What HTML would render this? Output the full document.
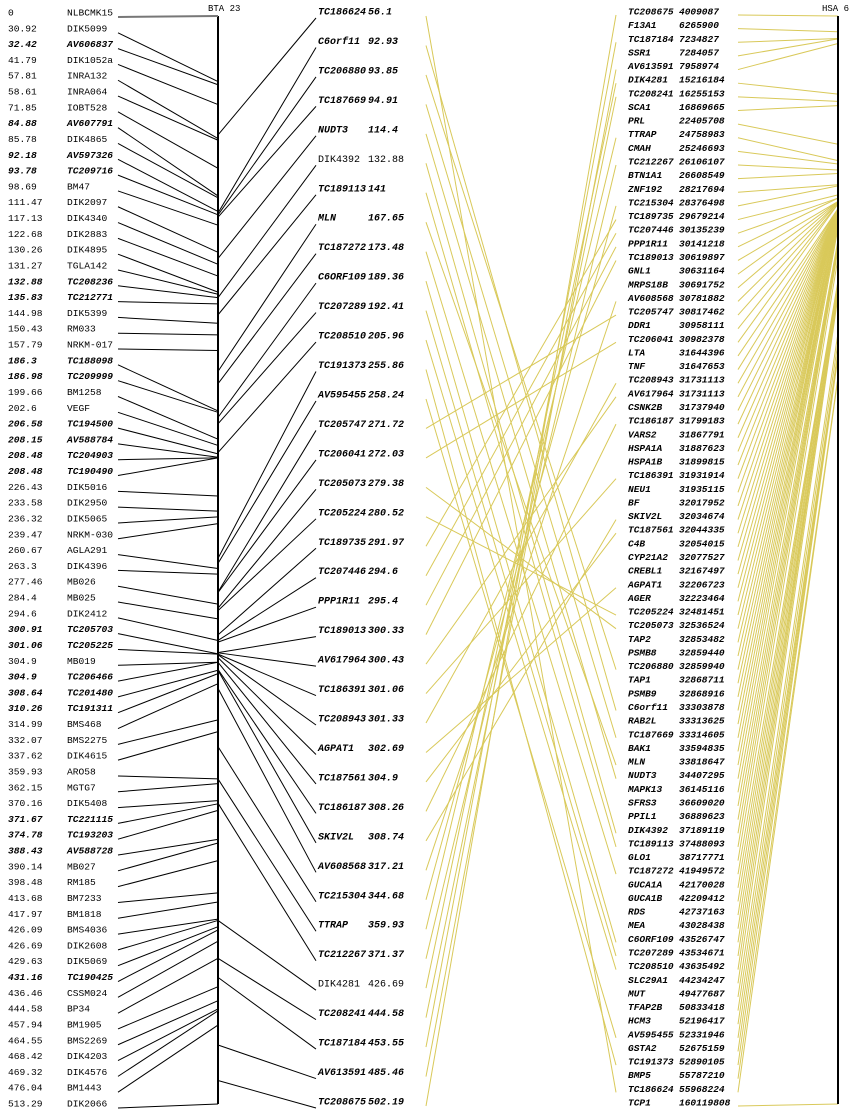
<!DOCTYPE html>
<html><head><meta charset="utf-8"><style>
html,body{margin:0;padding:0;background:#fff;}
svg{display:block;font-family:"Liberation Mono","DejaVu Sans Mono",monospace;}
.b{font-weight:bold;font-style:italic;}
</style></head><body>
<svg id="chart" width="854" height="1118" viewBox="0 0 854 1118"></svg>
<script>
const bovineNames=["NLBCMK15","DIK5099","AV606837","DIK1052a","INRA132","INRA064","IOBT528","AV607791","DIK4865","AV597326","TC209716","BM47","DIK2097","DIK4340","DIK2883","DIK4895","TGLA142","TC208236","TC212771","DIK5399","RM033","NRKM-017","TC188098","TC209999","BM1258","VEGF","TC194500","AV588784","TC204903","TC190490","DIK5016","DIK2950","DIK5065","NRKM-030","AGLA291","DIK4396","MB026","MB025","DIK2412","TC205703","TC205225","MB019","TC206466","TC201480","TC191311","BMS468","BMS2275","DIK4615","ARO58","MGTG7","DIK5408","TC221115","TC193203","AV588728","MB027","RM185","BM7233","BM1818","BMS4036","DIK2608","DIK5069","TC190425","CSSM024","BP34","BM1905","BMS2269","DIK4203","DIK4576","BM1443","DIK2066"];
const bovineCM=["0","30.92","32.42","41.79","57.81","58.61","71.85","84.88","85.78","92.18","93.78","98.69","111.47","117.13","122.68","130.26","131.27","132.88","135.83","144.98","150.43","157.79","186.3","186.98","199.66","202.6","206.58","208.15","208.48","208.48","226.43","233.58","236.32","239.47","260.67","263.3","277.46","284.4","294.6","300.91","301.06","304.9","304.9","308.64","310.26","314.99","332.07","337.62","359.93","362.15","370.16","371.67","374.78","388.43","390.14","398.48","413.68","417.97","426.09","426.69","429.63","431.16","436.46","444.58","457.94","464.55","468.42","469.32","476.04","513.29"];
const estNames=["TC186624","C6orf11","TC206880","TC187669","NUDT3","DIK4392","TC189113","MLN","TC187272","C6ORF109","TC207289","TC208510","TC191373","AV595455","TC205747","TC206041","TC205073","TC205224","TC189735","TC207446","PPP1R11","TC189013","AV617964","TC186391","TC208943","AGPAT1","TC187561","TC186187","SKIV2L","AV608568","TC215304","TTRAP","TC212267","DIK4281","TC208241","TC187184","AV613591","TC208675"];
const estCM=["56.1","92.93","93.85","94.91","114.4","132.88","141","167.65","173.48","189.36","192.41","205.96","255.86","258.24","271.72","272.03","279.38","280.52","291.97","294.6","295.4","300.33","300.43","301.06","301.33","302.69","304.9","308.26","308.74","317.21","344.68","359.93","371.37","426.69","444.58","453.55","485.46","502.19"];
const humanNames=["TC208675","F13A1","TC187184","SSR1","AV613591","DIK4281","TC208241","SCA1","PRL","TTRAP","CMAH","TC212267","BTN1A1","ZNF192","TC215304","TC189735","TC207446","PPP1R11","TC189013","GNL1","MRPS18B","AV608568","TC205747","DDR1","TC206041","LTA","TNF","TC208943","AV617964","CSNK2B","TC186187","VARS2","HSPA1A","HSPA1B","TC186391","NEU1","BF","SKIV2L","TC187561","C4B","CYP21A2","CREBL1","AGPAT1","AGER","TC205224","TC205073","TAP2","PSMB8","TC206880","TAP1","PSMB9","C6orf11","RAB2L","TC187669","BAK1","MLN","NUDT3","MAPK13","SFRS3","PPIL1","DIK4392","TC189113","GLO1","TC187272","GUCA1A","GUCA1B","RDS","MEA","C6ORF109","TC207289","TC208510","SLC29A1","MUT","TFAP2B","HCM3","AV595455","GSTA2","TC191373","BMP5","TC186624","TCP1"];
const humanBP=["4009087","6265900","7234827","7284057","7958974","15216184","16255153","16869665","22405708","24758983","25246693","26106107","26608549","28217694","28376498","29679214","30135239","30141218","30619897","30631164","30691752","30781882","30817462","30958111","30982378","31644396","31647653","31731113","31731113","31737940","31799183","31867791","31887623","31899815","31931914","31935115","32017952","32034674","32044335","32054015","32077527","32167497","32206723","32223464","32481451","32536524","32853482","32859440","32859940","32868711","32868916","33303878","33313625","33314605","33594835","33818647","34407295","36145116","36609020","36889623","37189119","37488093","38717771","41949572","42170028","42209412","42737163","43028438","43526747","43534671","43635492","44234247","49477687","50833418","52196417","52331946","52675159","52890105","55787210","55968224","160119808"];

const NS="http://www.w3.org/2000/svg";
const svg=document.getElementById('chart');
function mk(tag,attrs,parent){const e=document.createElementNS(NS,tag);for(const k in attrs)e.setAttribute(k,attrs[k]);(parent||svg).appendChild(e);return e;}
const AX1=218,AX2=838,TOP=16,BOT=1104;
const cmMax=Math.max(...bovineCM.map(Number));
const yCM=v=>TOP+(Number(v)/cmMax)*(BOT-TOP);
const bpMin=Math.min(...humanBP.map(Number)),bpMax=Math.max(...humanBP.map(Number));
const yBP=v=>TOP+(Number(v)-bpMin)/(bpMax-bpMin)*(BOT-TOP);
const isBold=n=>/^(TC|AV)/.test(n);

// rows
const lRow=i=>13+i*(1104-13)/(bovineNames.length-1);
const mRow=i=>13+i*(1103-13)/(estNames.length-1);
const rRow=i=>12+i*(1103-12)/(humanNames.length-1);

// yellow lines middle->right
const gY=mk('g',{});


estNames.forEach((n,i)=>{const j=humanNames.indexOf(n);if(j<0)return;
 const l=mk('line',{x1:426,y1:mRow(i)+3,x2:616,y2:rRow(j)+3,stroke:'#d9c95a','stroke-width':1},gY);
 
 });
humanNames.forEach((n,i)=>{
 const l=mk('line',{x1:738,y1:rRow(i)+3,x2:AX2,y2:yBP(humanBP[i]),stroke:'#d9c95a','stroke-width':1},gY);
 
 });

// axes
const a1=mk('line',{x1:AX1,y1:TOP,x2:AX1,y2:BOT,stroke:'#000','stroke-width':2});

const a2=mk('line',{x1:AX2,y1:TOP,x2:AX2,y2:BOT,stroke:'#000','stroke-width':2});

const t1=mk('text',{x:208,y:11,'font-size':9});t1.textContent='BTA 23';

const t2=mk('text',{x:822,y:11,'font-size':9});t2.textContent='HSA 6';


// left markers
bovineNames.forEach((n,i)=>{const y=lRow(i);const cls=isBold(n)?'b':'';
 const a=mk('text',{x:8,y:y,'font-size':9.6,'dominant-baseline':'central',class:cls});a.textContent=bovineCM[i];
 
 const b=mk('text',{x:67,y:y,'font-size':9.6,'dominant-baseline':'central',class:cls});b.textContent=n;
 
 const l=mk('line',{x1:118,y1:y+4,x2:AX1,y2:yCM(bovineCM[i]),stroke:i==0?'#777':'#000','stroke-width':i==0?2:1});
 });

// middle ESTs
estNames.forEach((n,i)=>{const y=mRow(i);const cls=/^DIK/.test(n)?'':'b';
 const a=mk('text',{x:318,y:y,'font-size':10,'dominant-baseline':'central',class:cls});a.textContent=n;
 
 const b=mk('text',{x:368,y:y,'font-size':10,'dominant-baseline':'central',class:cls});b.textContent=estCM[i];
 
 const l=mk('line',{x1:AX1,y1:yCM(estCM[i]),x2:316,y2:y+5,stroke:'#000','stroke-width':1});
 });

// right human genes
humanNames.forEach((n,i)=>{const y=rRow(i);
 const a=mk('text',{x:628,y:y,'font-size':9.5,'dominant-baseline':'central',class:'b'});a.textContent=n;
 
 const b=mk('text',{x:679,y:y,'font-size':9.5,'dominant-baseline':'central',class:'b'});b.textContent=humanBP[i];
 });
</script>
</body></html>
